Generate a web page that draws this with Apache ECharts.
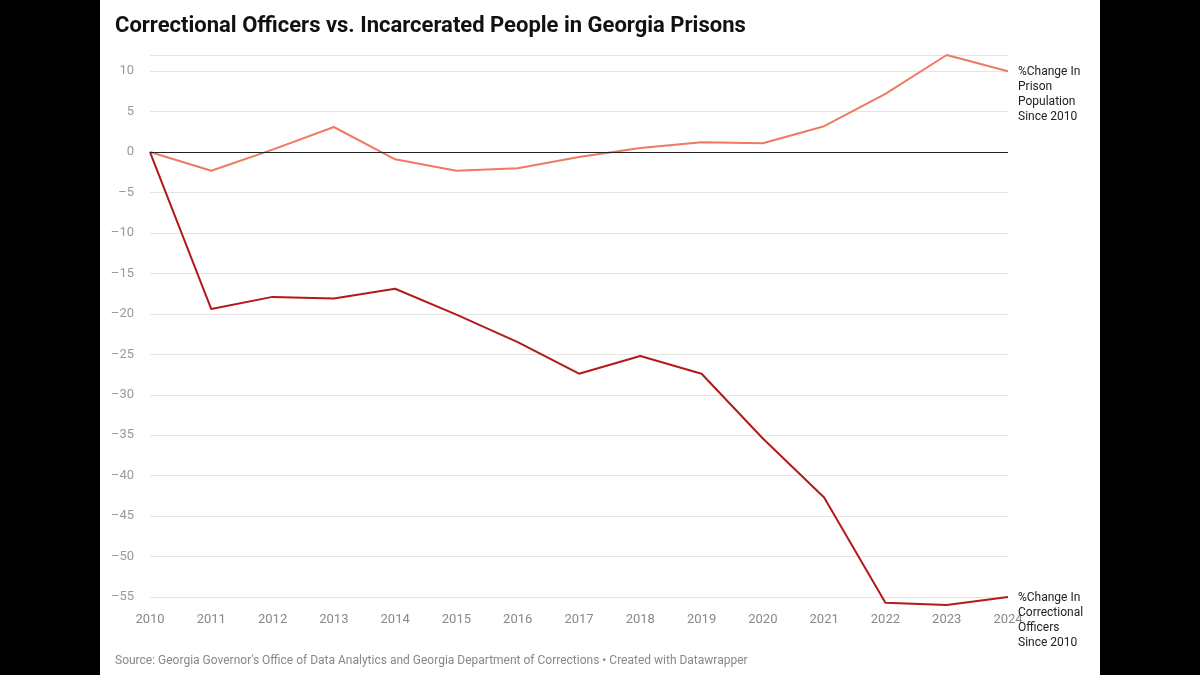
<!DOCTYPE html>
<html><head><meta charset="utf-8">
<script src="https://cdn.jsdelivr.net/npm/echarts@6/dist/echarts.min.js"></script>
<style>
body{margin:0;background:#000;}
#c{position:absolute;left:100px;top:0;width:1000px;height:675px;background:#fff;}
</style></head><body>
<div id="c"></div>
<script>
const years = ['2010','2011','2012','2013','2014','2015','2016','2017','2018','2019','2020','2021','2022','2023','2024'];
const prisonPop = [0,-2.3,0.3,3.1,-0.9,-2.3,-2.0,-0.6,0.5,1.2,1.1,3.2,7.2,12.0,10.0];
const officers = [0,-19.4,-17.9,-18.1,-16.9,-20.1,-23.5,-27.4,-25.2,-27.4,-35.4,-42.7,-55.7,-56.0,-55.0];
const prisonLabel = '%Change In\nPrison\nPopulation\nSince 2010';
const officerLabel = '%Change In\nCorrectional\nOfficers\nSince 2010';

const chart = echarts.init(document.getElementById('c'));
const font = 'Roboto, sans-serif';
function endLab(text){
  return {show:true, formatter:()=>text, color:'#222', fontSize:12, fontFamily:font,
    lineHeight:15, align:'left', verticalAlign:'top', offset:[2,-7]};
}
chart.setOption({
  animation:false,
  title:[
    {text:'Correctional Officers vs. Incarcerated People in Georgia Prisons', left:10, top:10,
     textStyle:{fontFamily:font, fontSize:22, fontWeight:'bold', color:'#111'}},
    {text:"Source: Georgia Governor's Office of Data Analytics and Georgia Department of Corrections • Created with Datawrapper",
     left:10, top:650, textStyle:{fontFamily:font, fontSize:12, fontWeight:'normal', color:'#888'}}
  ],
  grid:{left:50, right:92, top:55, bottom:78},
  xAxis:{type:'category', data:years, boundaryGap:false,
    axisLine:{show:false}, axisTick:{show:false},
    axisLabel:{color:'#888', fontSize:13, fontFamily:font, margin:16}},
  yAxis:{type:'value', min:-55, max:12, interval:5,
    axisLine:{show:false}, axisTick:{show:false},
    axisLabel:{color:'#999', fontSize:13, fontFamily:font, margin:16, showMaxLabel:false,
      formatter:v=>v<0?'\u2013'+Math.abs(v):String(v)},
    splitLine:{lineStyle:{color:'#e4e4e4'}}},
  series:[
    {name:'prison', type:'line', data:prisonPop, symbol:'none', clip:false,
     lineStyle:{color:'#ee7b61', width:2}, endLabel:endLab(prisonLabel),
     markLine:{silent:true, symbol:'none', label:{show:false},
       lineStyle:{color:'#222', width:1, type:'solid'}, data:[{yAxis:0}]}},
    {name:'officers', type:'line', data:officers, symbol:'none', clip:false,
     lineStyle:{color:'#b3191b', width:2}, endLabel:endLab(officerLabel)}
  ]
});
</script></body></html>
